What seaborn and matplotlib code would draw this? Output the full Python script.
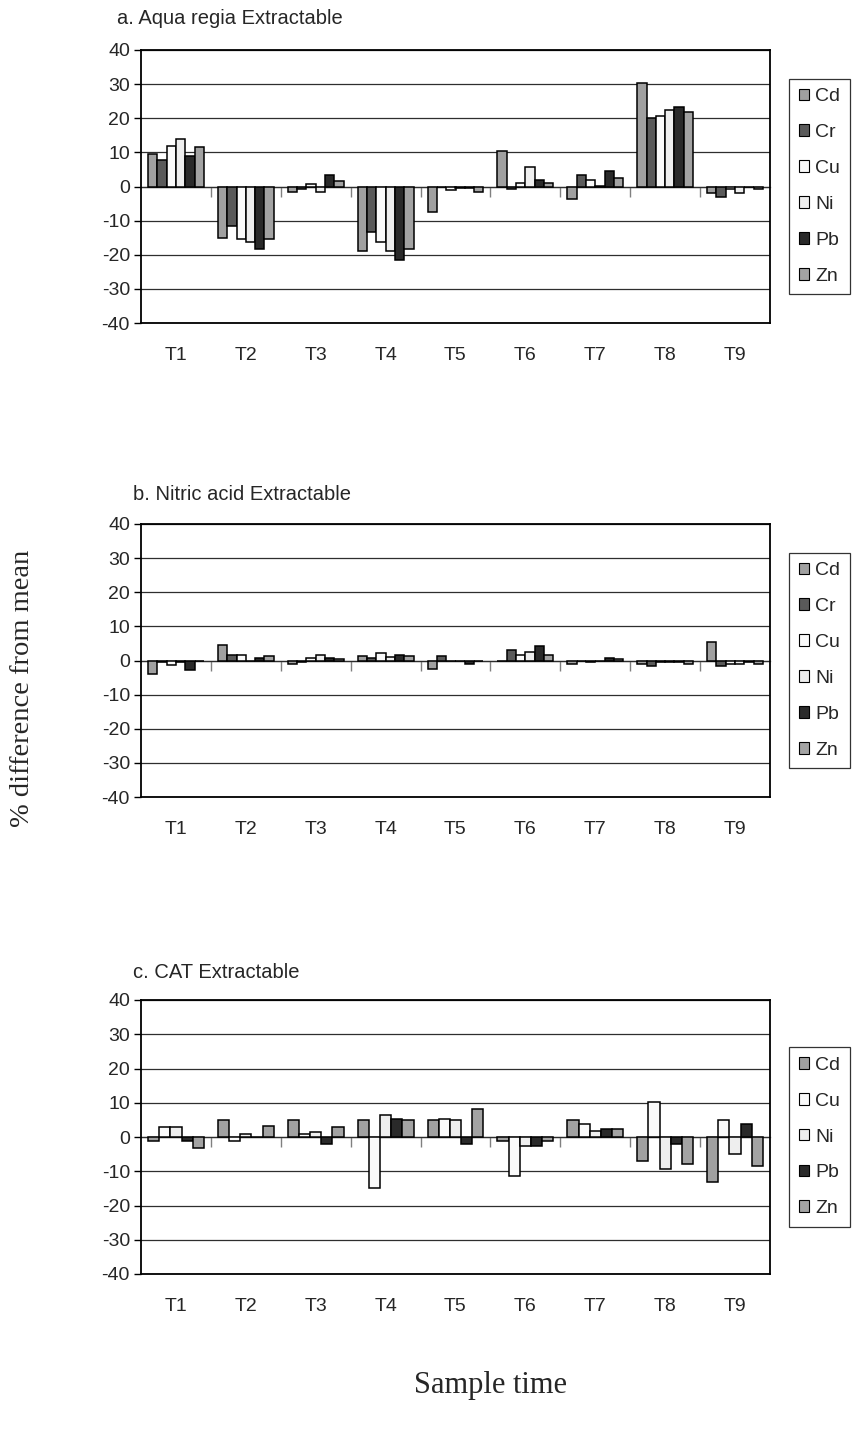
import numpy as np
import pandas as pd
import matplotlib
matplotlib.use("Agg")
import matplotlib.pyplot as plt
import seaborn as sns
from matplotlib.patches import Patch

# ---------------- data ----------------
times = ["T1", "T2", "T3", "T4", "T5", "T6", "T7", "T8", "T9"]
metals_ab = ["Cd", "Cr", "Cu", "Ni", "Pb", "Zn"]
metals_c = ["Cd", "Cu", "Ni", "Pb", "Zn"]

# a. Aqua regia Extractable
aqua_cd = [9.4, -15.1, -1.6, -18.9, -7.5, 10.3, -3.6, 30.3, -1.9]
aqua_cr = [7.9, -11.6, -0.7, -13.4, -0.2, -0.6, 3.4, 20.0, -3.1]
aqua_cu = [11.8, -15.5, 0.6, -16.3, -1.1, 1.0, 1.9, 20.8, -0.6]
aqua_ni = [13.9, -16.3, -1.6, -18.9, -0.5, 5.6, 0.2, 22.4, -2.0]
aqua_pb = [9.0, -18.4, 3.5, -21.4, -0.5, 2.0, 4.5, 23.4, 0.0]
aqua_zn = [11.5, -15.5, 1.6, -18.4, -1.6, 1.0, 2.5, 21.9, -0.6]

# b. Nitric acid Extractable
nitric_cd = [-4.0, 4.6, -1.0, 1.2, -2.5, 0.0, -1.0, -1.1, 5.5]
nitric_cr = [-0.4, 1.6, -0.5, 0.6, 1.2, 3.1, 0.0, -1.5, -1.5]
nitric_cu = [-1.4, 1.6, 0.6, 2.1, 0.0, 1.6, -0.5, -0.5, -1.0]
nitric_ni = [-0.4, 0.0, 1.6, 1.1, 0.0, 2.5, 0.0, -0.5, -1.0]
nitric_pb = [-2.9, 0.6, 0.7, 1.6, -1.1, 4.2, 0.6, -0.5, -0.4]
nitric_zn = [0.0, 1.3, 0.3, 1.3, 0.0, 1.6, 0.5, -1.1, -1.0]

# c. CAT Extractable
cat_cd = [-1.2, 4.9, 4.9, 4.9, 4.9, -1.1, 4.9, -7.0, -13.0]
cat_cu = [2.9, -1.2, 0.9, -15.0, 5.3, -11.4, 3.8, 10.3, 4.9]
cat_ni = [2.9, 0.9, 1.4, 6.3, 4.9, -2.5, 1.8, -9.4, -5.0]
cat_pb = [-1.2, 0.0, -2.1, 5.3, -2.1, -2.5, 2.4, -2.1, 3.8]
cat_zn = [-3.1, 3.3, 2.9, 4.9, 8.3, -1.2, 2.4, -8.0, -8.4]

titles = ["a. Aqua regia Extractable", "b. Nitric acid Extractable", "c. CAT Extractable"]
y_ticks = [-40, -30, -20, -10, 0, 10, 20, 30, 40]

palette = {"Cd": "#a0a0a0", "Cr": "#5a5a5a", "Cu": "#fafafa",
           "Ni": "#eeeeee", "Pb": "#2a2a2a", "Zn": "#a3a3a3"}


def long_frame(series):
    rows = []
    for metal, vals in series.items():
        for t, v in zip(times, vals):
            rows.append({"time": t, "metal": metal, "value": v})
    return pd.DataFrame(rows)


panels = [
    (long_frame({"Cd": aqua_cd, "Cr": aqua_cr, "Cu": aqua_cu,
                 "Ni": aqua_ni, "Pb": aqua_pb, "Zn": aqua_zn}), metals_ab),
    (long_frame({"Cd": nitric_cd, "Cr": nitric_cr, "Cu": nitric_cu,
                 "Ni": nitric_ni, "Pb": nitric_pb, "Zn": nitric_zn}), metals_ab),
    (long_frame({"Cd": cat_cd, "Cu": cat_cu, "Ni": cat_ni,
                 "Pb": cat_pb, "Zn": cat_zn}), metals_c),
]

# ---------------- style ----------------
sns.set_style("white")
plt.rcParams["font.family"] = ["Liberation Sans", "DejaVu Sans"]

W, H = 852, 1434
fig = plt.figure(figsize=(W / 100, H / 100), dpi=100)

# axes boxes in pixels (left, top, right, bottom)
boxes = [(141, 50, 770, 323), (141, 524, 770, 797), (141, 1000, 770, 1274)]
title_pos = [(117, 19), (133, 495), (133, 972)]

for (df, metals), (l, t, r, b), title, (tx, ty) in zip(panels, boxes, titles, title_pos):
    ax = fig.add_axes([l / W, 1 - b / H, (r - l) / W, (b - t) / H])
    sns.barplot(data=df, x="time", y="value", hue="metal", order=times,
                hue_order=metals, palette=palette, saturation=1,
                edgecolor="black", linewidth=1.1, errorbar=None,
                width=0.8, ax=ax, legend=False)
    ax.set_ylim(-40, 40)
    ax.set_xlim(-0.5, len(times) - 0.5)
    ax.set_yticks(y_ticks)
    ax.set_yticklabels([str(v) for v in y_ticks])
    ax.set_xlabel("")
    ax.set_ylabel("")
    ax.yaxis.grid(True, color="#2e2e2e", linewidth=0.9)
    ax.set_axisbelow(True)
    for sp in ax.spines.values():
        sp.set_visible(True)
        sp.set_color("black")
        sp.set_linewidth(1.3)
    ax.tick_params(axis="y", direction="out", length=5, width=1,
                   color="black", labelsize=14, pad=3, left=True)
    ax.tick_params(axis="x", length=0, labelsize=14, pad=17)

    # category axis crossing at zero, with tick marks between categories
    sec = ax.secondary_xaxis(0.49999)
    sec.set_xticks(np.arange(len(times) - 1) + 0.5)
    sec.tick_params(direction="out", length=7, width=1, color="#808080",
                    labelbottom=False, labeltop=False)
    for sp in sec.spines.values():
        sp.set_color("#808080")
        sp.set_linewidth(1.0)

    handles = [Patch(facecolor=palette[m], edgecolor="black", linewidth=0.8, label=m)
               for m in metals]
    leg = ax.legend(handles=handles, loc="center left", bbox_to_anchor=(1.030, 0.5),
                    frameon=True, fancybox=False, fontsize=14, handlelength=0.55,
                    handleheight=0.55, handletextpad=0.3, labelspacing=0.97,
                    borderpad=0.5, borderaxespad=0)
    leg.get_frame().set_edgecolor("black")
    leg.get_frame().set_linewidth(0.9)

    fig.text(tx / W, 1 - ty / H, title, fontsize=14.5, ha="left", va="center")

fig.text(23 / W, 1 - 688 / H, "% difference from mean", rotation=90,
         family=["Liberation Serif", "DejaVu Serif"], fontsize=20.5,
         ha="center", va="center")
fig.text(490 / W, 1 - 1385 / H, "Sample time",
         family=["Liberation Serif", "DejaVu Serif"], fontsize=22,
         ha="center", va="center")

fig.savefig("out.png", dpi=100, facecolor="white")
